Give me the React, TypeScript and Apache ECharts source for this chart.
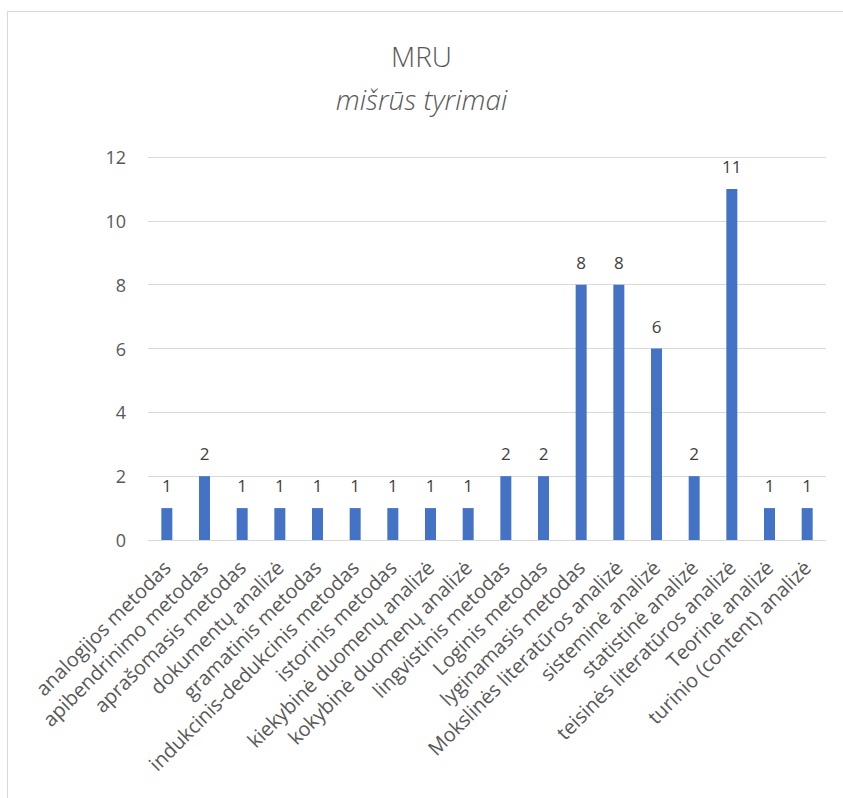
import React, { useEffect, useRef } from "react";
import * as echarts from "echarts";

const categories = [
  "analogijos metodas",
  "apibendrinimo metodas",
  "aprašomasis metodas",
  "dokumentų analizė",
  "gramatinis metodas",
  "indukcinis-dedukcinis metodas",
  "istorinis metodas",
  "kiekybinė duomenų analizė",
  "kokybinė duomenų analizė",
  "lingvistinis metodas",
  "Loginis metodas",
  "lyginamasis metodas",
  "Mokslinės literatūros analizė",
  "sisteminė analizė",
  "statistinė analizė",
  "teisinės literatūros analizė",
  "Teorinė analizė",
  "turinio (content) analizė",
];
const values = [1, 2, 1, 1, 1, 1, 1, 1, 1, 2, 2, 8, 8, 6, 2, 11, 1, 1];
const titleText = "MRU";
const subtitleText = "mišrūs tyrimai";

export default function App() {
  const ref = useRef<HTMLDivElement>(null);
  useEffect(() => {
    if (!ref.current) return;
    const chart = echarts.init(ref.current, null, { renderer: "svg" });
    chart.setOption({
      animation: false,
      title: [
        {
          text: titleText,
          left: "center",
          top: 37,
          textStyle: { fontFamily: "Open Sans", fontSize: 28, fontWeight: 300, color: "#595959" },
        },
        {
          text: subtitleText,
          left: "center",
          top: 80,
          textStyle: { fontFamily: "Open Sans", fontSize: 28, fontWeight: 300, fontStyle: "italic", color: "#595959" },
        },
      ],
      grid: { left: 148, right: 17, top: 157, bottom: 258, containLabel: false },
      xAxis: {
        type: "category",
        data: categories,
        axisLine: { lineStyle: { color: "#d9d9d9" } },
        axisTick: { show: false },
        axisLabel: {
          rotate: 45,
          interval: 0,
          margin: 24,
          fontFamily: "Open Sans",
          fontSize: 20,
          color: "#595959",
        },
      },
      yAxis: {
        type: "value",
        min: 0,
        max: 12,
        interval: 2,
        axisLine: { show: false },
        axisTick: { show: false },
        splitLine: { lineStyle: { color: "#d9d9d9" } },
        axisLabel: { fontFamily: "Open Sans", fontSize: 18, color: "#595959", margin: 22 },
      },
      series: [
        {
          type: "bar",
          data: values,
          barWidth: 11,
          itemStyle: { color: "#4472c4" },
          label: {
            show: true,
            position: "top",
            distance: 14,
            fontFamily: "Open Sans",
            fontSize: 17,
            color: "#404040",
          },
        },
      ],
    });
    return () => chart.dispose();
  }, []);
  return (
    <div style={{ position: "absolute", left: 0, top: 0, width: 843, height: 798, overflow: "hidden", background: "#fff" }}>
      <div
        style={{
          position: "absolute",
          left: 7,
          top: 11,
          width: 1000,
          height: 1000,
          border: "1px solid #d9d9d9",
        }}
      />
      <div ref={ref} style={{ position: "absolute", left: 0, top: 0, width: 843, height: 798 }} />
    </div>
  );
}
